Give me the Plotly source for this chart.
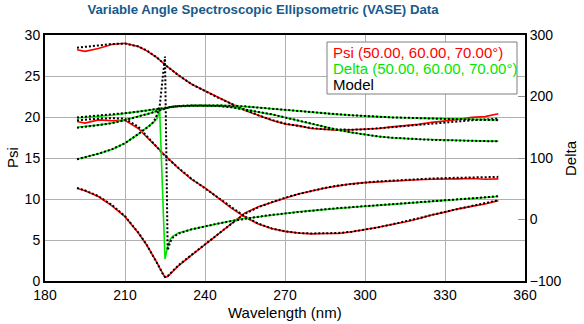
import plotly.graph_objects as go

# ---------------- data ----------------
wavelength = [192, 195, 200, 205, 210, 215, 218, 220, 221, 222, 223, 224, 225, 226, 227, 228,
              230, 235, 240, 245, 250, 255, 260, 265, 270, 275, 280, 285, 290, 295, 300, 305,
              310, 315, 320, 325, 330, 335, 340, 345, 350]

psi_a_exp = [28.2, 28.0, 28.35, 28.85, 29.0, 28.6, 28.1, 27.7, 27.5, 27.25, 26.95, 26.65, 26.35, 26.1, 25.9, 25.65,
             25.1, 24.0, 23.2, 22.35, 21.65, 20.8, 20.2, 19.6, 19.15, 18.95, 18.6, 18.5, 18.4, 18.45, 18.55, 18.6,
             18.8, 18.95, 19.1, 19.35, 19.5, 19.7, 19.95, 20.05, 20.4]
psi_b_exp = [19.45, 19.25, 19.65, 19.55, 19.6, 18.6, 17.6, 16.95, 16.6, 16.25, 15.9, 15.55, 15.25, 14.95, 14.7, 14.4,
             13.75, 12.4, 11.35, 10.1, 8.85, 7.8, 6.95, 6.4, 6.05, 5.85, 5.75, 5.8, 5.8, 6.0, 6.25, 6.55,
             6.9, 7.2, 7.6, 8.05, 8.4, 8.8, 9.1, 9.4, 9.8]
psi_c_exp = [11.3, 11.0, 10.3, 9.2, 7.85, 5.85, 4.45, 3.4, 2.85, 2.25, 1.6, 0.95, 0.45, 0.55, 0.85, 1.2,
             1.85, 3.15, 4.45, 5.8, 7.05, 8.3, 9.05, 9.6, 10.1, 10.6, 11.0, 11.35, 11.6, 11.85, 12.0, 12.1,
             12.2, 12.3, 12.35, 12.4, 12.4, 12.45, 12.5, 12.4, 12.45]

psi_a_mod = [28.45, 28.55, 28.7, 28.9, 28.95, 28.6, 28.15, 27.75, 27.5, 27.25, 26.95, 26.65, 26.35, 26.1, 25.85, 25.6,
             25.1, 24.0, 23.15, 22.35, 21.6, 20.85, 20.2, 19.65, 19.2, 18.9, 18.65, 18.5, 18.45, 18.45, 18.5, 18.6,
             18.75, 18.9, 19.05, 19.2, 19.35, 19.5, 19.6, 19.7, 19.8]
psi_b_mod = [19.6, 19.7, 19.8, 19.85, 19.8, 18.8, 17.7, 17.0, 16.65, 16.3, 15.95, 15.6, 15.25, 14.95, 14.65, 14.4,
             13.8, 12.45, 11.3, 10.1, 8.9, 7.85, 7.0, 6.4, 6.05, 5.85, 5.8, 5.8, 5.85, 6.0, 6.25, 6.55,
             6.9, 7.25, 7.65, 8.05, 8.45, 8.8, 9.15, 9.5, 9.85]
psi_c_mod = [11.35, 11.05, 10.35, 9.3, 7.9, 5.9, 4.5, 3.4, 2.85, 2.25, 1.6, 0.95, 0.5, 0.6, 0.9, 1.25,
             1.9, 3.2, 4.5, 5.8, 7.0, 8.2, 9.0, 9.6, 10.15, 10.6, 11.0, 11.35, 11.65, 11.85, 12.0, 12.15,
             12.25, 12.35, 12.45, 12.5, 12.55, 12.6, 12.65, 12.65, 12.7]

delta_a_exp = [165, 166, 167.5, 169.5, 172.5, 175.5, 177.5, 178.5, 179, 179.5, 180.5, 181, 182, 182.5, 183, 183.5,
               184, 185, 185.5, 185.5, 185, 184, 182, 180, 178, 176, 174, 172.5, 171, 169.5, 168, 167,
               166, 165.5, 165, 164, 163.5, 163, 163, 162.5, 162]
delta_b_exp = [150, 151, 153.5, 157, 162, 167, 171, 173.5, 175, 176.5, 178, 179.5, 181, 182, 183, 183.5,
               184.5, 185.5, 185.5, 184.5, 182.5, 179, 175, 171, 166, 161, 156, 150, 145.5, 141.5, 138, 135,
               133, 131.5, 130.5, 130, 129, 128.5, 128, 127.5, 127.5]
delta_c_exp = [98, 101, 107, 114, 124, 139, 149, 155, 159, 164, 178, 57, -64, -44, -32, -27,
               -22, -16, -11, -6.5, -2, 1.5, 4.5, 7.5, 10, 12.5, 14.5, 16.5, 18.5, 20, 21.5, 23,
               24.5, 26, 27.5, 29, 30.5, 32, 34, 36, 37.5]

delta_a_mod = [166, 167, 168.5, 170.5, 173, 175.5, 177.5, 178.5, 179, 179.5, 180.5, 181, 182, 182.5, 183, 183.5,
               184, 185, 185.5, 185.5, 185, 184, 182, 180, 178, 176, 174, 172.5, 171, 169.5, 168, 167,
               166, 165.5, 164.5, 164, 163.5, 163, 162.5, 162, 161.5]
delta_b_mod = [149, 150.5, 153, 156.5, 161.5, 167, 171, 173.5, 175, 176.5, 178, 179.5, 181, 182, 183, 183.5,
               184.5, 185.5, 185.5, 184.5, 182.5, 179, 175, 171, 166, 161, 156, 150, 145.5, 141.5, 138, 135,
               133, 131.5, 130.5, 129.5, 129, 128.5, 128, 127.5, 127]
delta_c_mod = [98, 101, 107, 114, 124, 139, 149, 155, 161, 170, 184, 220, 265, -50, -36, -29,
               -23, -16, -11, -6.5, -2.5, 1.5, 4.5, 7.5, 10, 12.5, 14.5, 16.5, 18.5, 20, 21.5, 23,
               24.5, 26, 27.5, 29, 30.5, 32.5, 34, 36, 38]

legend_labels = ["Psi (50.00, 60.00, 70.00°)", "Delta (50.00, 60.00, 70.00°)", "Model"]
title_text = "Variable Angle Spectroscopic Ellipsometric (VASE) Data"
x_title, y_title, y2_title = "Wavelength (nm)", "Psi", "Delta"

# ---------------- styling ----------------
RED = "#ff0000"
GREEN = "#00e600"
FONT = "Liberation Sans"
AXIS_TITLE_FONT = dict(family=FONT, size=15, color="black")
W, H = 584, 324
L, R, T, B = 45, 59, 35, 43
PW, PH = W - L - R, H - T - B


def px_x(px):
    return (px - L) / PW


def px_y(py):
    return (H - B - py) / PH


fig = go.Figure()

for ys in (psi_a_exp, psi_b_exp, psi_c_exp):
    fig.add_trace(go.Scatter(x=wavelength, y=ys, mode="lines", yaxis="y",
                             line=dict(color=RED, width=1.6), showlegend=False, hoverinfo="skip"))
for ys in (delta_a_exp, delta_b_exp, delta_c_exp):
    fig.add_trace(go.Scatter(x=wavelength, y=ys, mode="lines", yaxis="y2",
                             line=dict(color=GREEN, width=1.6), showlegend=False, hoverinfo="skip"))
for ys in (psi_a_mod, psi_b_mod, psi_c_mod):
    fig.add_trace(go.Scatter(x=wavelength, y=ys, mode="lines", yaxis="y",
                             line=dict(color="black", width=2, dash="2px,2px"),
                             showlegend=False, hoverinfo="skip"))
for ys in (delta_a_mod, delta_b_mod, delta_c_mod):
    fig.add_trace(go.Scatter(x=wavelength, y=ys, mode="lines", yaxis="y2",
                             line=dict(color="black", width=2, dash="2px,2px"),
                             showlegend=False, hoverinfo="skip"))

fig.update_layout(
    width=W, height=H,
    margin=dict(l=L, r=R, t=T, b=B, autoexpand=False),
    paper_bgcolor="white", plot_bgcolor="white",
    font=dict(family=FONT, size=14, color="black"),
    title=dict(text="<b>" + title_text + "</b>", xref="container", yref="container",
               x=263 / W, xanchor="center", y=1 - 9.5 / H, yanchor="middle",
               font=dict(family=FONT, size=13.2, color="#175a8c"), automargin=False),
    xaxis=dict(range=[180, 360], dtick=30, tick0=180, showgrid=True, gridcolor="#b0b0b0", gridwidth=1,
               showline=True, linecolor="black", linewidth=2, mirror=True, ticks="",
               zeroline=False, automargin=False),
    yaxis=dict(range=[0, 30], dtick=5, showgrid=True, gridcolor="#b0b0b0", gridwidth=1,
               showline=True, linecolor="black", linewidth=2, mirror=True, ticks="",
               zeroline=False, automargin=False),
    yaxis2=dict(range=[-100, 300], dtick=100, overlaying="y", side="right", showgrid=False,
                showline=True, linecolor="black", linewidth=2, ticks="inside", ticklen=7,
                tickcolor="#909090", zeroline=False, automargin=False),
)

# axis titles placed as annotations
fig.add_annotation(xref="paper", yref="paper", x=px_x(285), y=px_y(312), text=x_title,
                   showarrow=False, xanchor="center", yanchor="middle", font=AXIS_TITLE_FONT)
fig.add_annotation(xref="paper", yref="paper", x=px_x(12), y=px_y(158), text=y_title,
                   showarrow=False, xanchor="center", yanchor="middle", textangle=-90,
                   font=AXIS_TITLE_FONT)
fig.add_annotation(xref="paper", yref="paper", x=px_x(570), y=px_y(158), text=y2_title,
                   showarrow=False, xanchor="center", yanchor="middle", textangle=-90,
                   font=AXIS_TITLE_FONT)

# legend box (text-only legend as in the reference)
fig.add_shape(type="rect", xref="paper", yref="paper",
              x0=px_x(327), x1=px_x(517), y0=px_y(94), y1=px_y(42),
              line=dict(color="#7f7f7f", width=1), fillcolor="white", layer="above")
legend_colors = [RED, GREEN, "black"]
legend_rows = [53, 68.5, 84]
for lab, col, yy in zip(legend_labels, legend_colors, legend_rows):
    fig.add_annotation(xref="paper", yref="paper", x=px_x(331), y=px_y(yy),
                       xanchor="left", yanchor="middle", text=lab, showarrow=False,
                       font=dict(family=FONT, size=15, color=col))

fig.write_html("out.html")
